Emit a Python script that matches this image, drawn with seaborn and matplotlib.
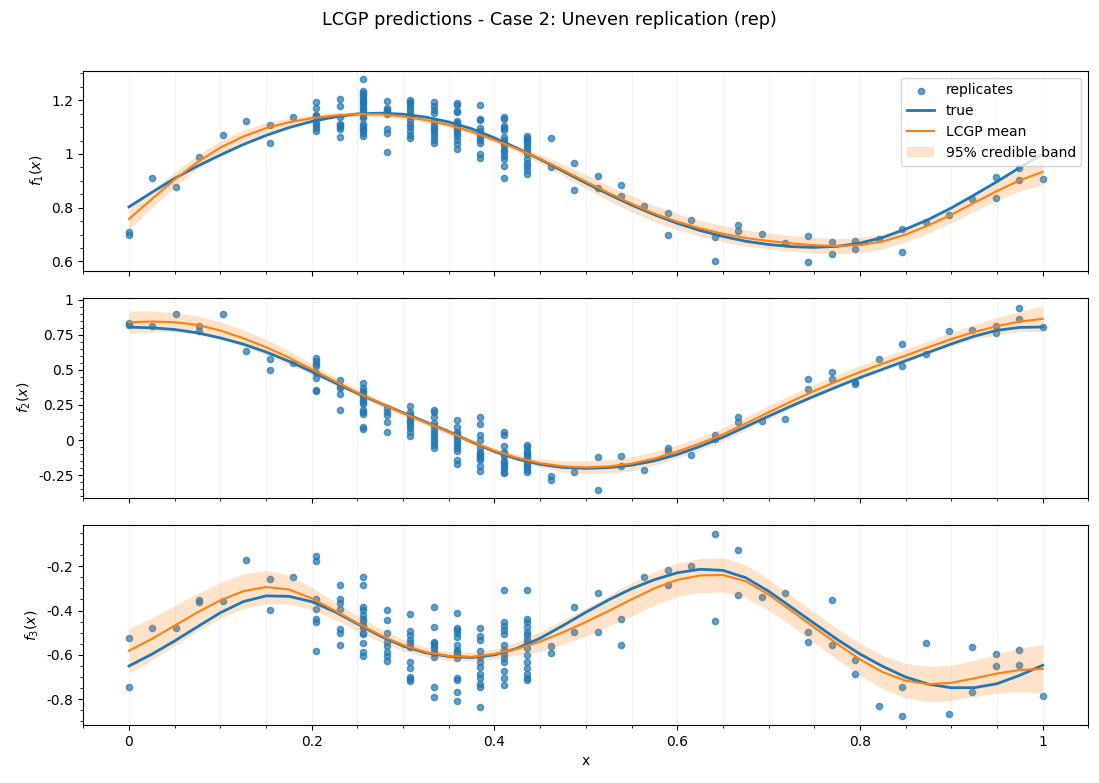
import numpy as np
import pandas as pd
import matplotlib
matplotlib.use("Agg")
import matplotlib.pyplot as plt
import seaborn as sns
from matplotlib.ticker import FuncFormatter

# design points (40 locations, uneven replication in the middle)
x_design = np.linspace(0, 1, 40)
# curve sampling grid
x_grid = np.linspace(0, 1, 41)

# ---- f1 ----
rep1 = [
    [0.708, 0.699], [0.911], [0.877], [0.990], [1.071], [1.123], [1.109, 1.041], [1.138],
    [1.192, 1.170, 1.145, 1.143, 1.138, 1.120, 1.107, 1.097, 1.086],
    [1.205, 1.178, 1.138, 1.113, 1.107, 1.099, 1.094, 1.063],
    [1.279, 1.236, 1.227, 1.218, 1.209, 1.202, 1.194, 1.185, 1.176, 1.169, 1.161, 1.140,
     1.134, 1.113, 1.104, 1.094, 1.088, 1.078, 1.068],
    [1.197, 1.170, 1.165, 1.159, 1.149, 1.092, 1.077, 1.007],
    [1.200, 1.192, 1.186, 1.175, 1.165, 1.153, 1.140, 1.125, 1.112, 1.099, 1.086, 1.072, 1.060],
    [1.192, 1.178, 1.165, 1.153, 1.124, 1.108, 1.097, 1.088, 1.078, 1.066, 1.053, 1.042],
    [1.190, 1.181, 1.159, 1.155, 1.122, 1.115, 1.109, 1.097, 1.088, 1.078, 1.066, 1.053, 1.037, 1.019],
    [1.184, 1.130, 1.125, 1.097, 1.084, 1.072, 1.060, 1.051, 1.041, 1.001, 0.985],
    [1.137, 1.132, 1.103, 1.097, 1.091, 1.062, 1.053, 1.041, 1.029, 1.016, 1.006, 0.994,
     0.981, 0.957, 0.911],
    [1.068, 1.060, 1.053, 1.043, 1.035, 1.022, 1.010, 0.998, 0.981, 0.966, 0.957, 0.942, 0.927],
    [1.060, 0.952], [0.966, 0.867], [0.919, 0.873], [0.885, 0.845], [0.808], [0.780, 0.700],
    [0.754], [0.691, 0.603], [0.736, 0.713], [0.702], [0.669], [0.696, 0.599], [0.673, 0.629],
    [0.675, 0.646], [0.683], [0.722, 0.636], [0.746], [0.773], [0.834], [0.916, 0.836],
    [0.948, 0.903], [0.908],
]
true1 = [0.803, 0.857, 0.909, 0.955, 0.996, 1.035, 1.069, 1.098, 1.121, 1.138, 1.149, 1.152,
         1.148, 1.137, 1.119, 1.094, 1.060, 1.021, 0.980, 0.936, 0.892, 0.850, 0.810, 0.774,
         0.742, 0.715, 0.693, 0.675, 0.663, 0.655, 0.652, 0.656, 0.668, 0.689, 0.720, 0.756,
         0.799, 0.847, 0.897, 0.949, 1.000]
mean1 = [0.758, 0.832, 0.905, 0.970, 1.024, 1.065, 1.096, 1.118, 1.133, 1.143, 1.149, 1.148,
         1.140, 1.126, 1.108, 1.083, 1.052, 1.019, 0.982, 0.940, 0.897, 0.855, 0.815, 0.778,
         0.748, 0.723, 0.703, 0.687, 0.676, 0.667, 0.660, 0.657, 0.661, 0.674, 0.700, 0.734,
         0.774, 0.818, 0.862, 0.902, 0.933]
half1 = [0.040, 0.033, 0.028, 0.025, 0.025, 0.024, 0.020, 0.016, 0.012, 0.010, 0.009, 0.009,
         0.009, 0.009, 0.009, 0.010, 0.010, 0.011, 0.016, 0.022, 0.026, 0.028, 0.030, 0.030,
         0.030, 0.030, 0.030, 0.030, 0.029, 0.029, 0.029, 0.028, 0.028, 0.028, 0.028, 0.029,
         0.030, 0.031, 0.034, 0.040, 0.047]

# ---- f2 ----
rep2 = [
    [0.833, 0.817], [0.810], [0.902], [0.812, 0.774], [0.895], [0.636], [0.579, 0.502], [0.552],
    [0.583, 0.567, 0.543, 0.531, 0.476, 0.440, 0.357, 0.350],
    [0.431, 0.383, 0.369, 0.326, 0.217],
    [0.407, 0.369, 0.352, 0.340, 0.321, 0.305, 0.288, 0.269, 0.257, 0.217, 0.198, 0.186, 0.090, 0.079],
    [0.226, 0.202, 0.179, 0.131, 0.060],
    [0.245, 0.198, 0.179, 0.162, 0.145, 0.126, 0.107, 0.086, 0.060, 0.031],
    [0.217, 0.202, 0.162, 0.121, 0.102, 0.074, 0.050, 0.031, 0.007, -0.017, -0.036, -0.057],
    [0.143, 0.090, 0.055, 0.043, 0.026, 0.007, -0.017, -0.036, -0.060, -0.076, -0.140, -0.171],
    [0.167, 0.114, 0.036, 0.002, -0.060, -0.083, -0.100, -0.117, -0.131, -0.140, -0.183, -0.221],
    [0.055, 0.038, -0.045, -0.088, -0.100, -0.112, -0.148, -0.164, -0.183, -0.202, -0.226, -0.236],
    [-0.036, -0.052, -0.076, -0.093, -0.107, -0.124, -0.140, -0.160, -0.179, -0.195, -0.212, -0.226],
    [-0.255, -0.286], [-0.226], [-0.121, -0.355], [-0.114, -0.186], [-0.214], [-0.057, -0.076],
    [-0.107], [0.036, 0.007], [0.167, 0.126], [0.138], [0.150], [0.436, 0.364], [0.488, 0.436],
    [0.412, 0.398], [0.579], [0.686, 0.531], [0.610], [0.779], [0.781], [0.812, 0.764],
    [0.943, 0.864], [0.807],
]
true2 = [0.805, 0.800, 0.788, 0.764, 0.728, 0.684, 0.628, 0.562, 0.488, 0.410, 0.333, 0.262,
         0.195, 0.128, 0.060, -0.013, -0.081, -0.135, -0.173, -0.195, -0.202, -0.196, -0.179,
         -0.148, -0.103, -0.045, 0.020, 0.095, 0.170, 0.243, 0.313, 0.380, 0.445, 0.505, 0.565,
         0.625, 0.685, 0.740, 0.782, 0.803, 0.806]
mean2 = [0.840, 0.845, 0.840, 0.821, 0.781, 0.726, 0.662, 0.588, 0.505, 0.420, 0.338, 0.262,
         0.192, 0.125, 0.058, -0.012, -0.076, -0.127, -0.165, -0.187, -0.195, -0.188, -0.168,
         -0.132, -0.082, -0.024, 0.040, 0.118, 0.198, 0.276, 0.350, 0.420, 0.485, 0.545, 0.602,
         0.662, 0.720, 0.770, 0.812, 0.845, 0.864]
half2 = [0.080, 0.075, 0.068, 0.064, 0.062, 0.060, 0.056, 0.050, 0.040, 0.030, 0.024, 0.021,
         0.020, 0.020, 0.020, 0.020, 0.020, 0.022, 0.030, 0.040, 0.046, 0.049, 0.050, 0.048,
         0.046, 0.046, 0.046, 0.047, 0.048, 0.048, 0.048, 0.047, 0.046, 0.045, 0.045, 0.046,
         0.048, 0.052, 0.060, 0.072, 0.090]

# ---- f3 ----
rep3 = [
    [-0.526, -0.746], [-0.480], [-0.480], [-0.353, -0.360], [-0.358], [-0.173], [-0.256, -0.398],
    [-0.251],
    [-0.155, -0.178, -0.349, -0.391, -0.436, -0.454, -0.583],
    [-0.283, -0.349, -0.368, -0.391, -0.484, -0.503, -0.556],
    [-0.251, -0.283, -0.383, -0.398, -0.421, -0.439, -0.448, -0.466, -0.481, -0.503, -0.508,
     -0.548, -0.586, -0.605],
    [-0.398, -0.443, -0.503, -0.540, -0.559, -0.589, -0.604, -0.626],
    [-0.416, -0.493, -0.511, -0.533, -0.548, -0.563, -0.631, -0.661, -0.701, -0.710, -0.716],
    [-0.383, -0.473, -0.540, -0.548, -0.559, -0.571, -0.586, -0.593, -0.608, -0.746, -0.788],
    [-0.409, -0.481, -0.488, -0.503, -0.518, -0.556, -0.578, -0.589, -0.598, -0.613, -0.706,
     -0.713, -0.769, -0.808],
    [-0.481, -0.513, -0.533, -0.583, -0.608, -0.631, -0.653, -0.688, -0.706, -0.733, -0.743, -0.834],
    [-0.308, -0.450, -0.469, -0.488, -0.508, -0.556, -0.578, -0.598, -0.613, -0.631, -0.673,
     -0.706, -0.736],
    [-0.308, -0.436, -0.454, -0.473, -0.499, -0.511, -0.529, -0.541, -0.568, -0.601, -0.631,
     -0.661, -0.688, -0.703, -0.713],
    [-0.560, -0.593], [-0.385, -0.499], [-0.319, -0.499], [-0.440, -0.556], [-0.248],
    [-0.218, -0.283], [-0.200], [-0.053, -0.448], [-0.128, -0.331], [-0.341], [-0.319],
    [-0.499, -0.544], [-0.353, -0.556], [-0.623, -0.686], [-0.830], [-0.746, -0.875], [-0.548],
    [-0.867], [-0.566, -0.767], [-0.598, -0.650], [-0.578, -0.646], [-0.785],
]
true3 = [-0.650, -0.597, -0.537, -0.473, -0.410, -0.360, -0.334, -0.336, -0.360, -0.405, -0.460,
         -0.515, -0.560, -0.591, -0.607, -0.612, -0.600, -0.570, -0.525, -0.468, -0.408, -0.352,
         -0.302, -0.261, -0.230, -0.214, -0.219, -0.252, -0.313, -0.385, -0.458, -0.530, -0.596,
         -0.652, -0.700, -0.732, -0.748, -0.748, -0.730, -0.692, -0.647]
mean3 = [-0.581, -0.528, -0.468, -0.408, -0.354, -0.313, -0.294, -0.305, -0.345, -0.400, -0.457,
         -0.511, -0.556, -0.588, -0.605, -0.609, -0.596, -0.572, -0.540, -0.498, -0.452, -0.402,
         -0.350, -0.300, -0.262, -0.242, -0.240, -0.268, -0.328, -0.401, -0.476, -0.550, -0.620,
         -0.678, -0.716, -0.732, -0.726, -0.706, -0.684, -0.668, -0.663]
half3 = [0.100, 0.095, 0.090, 0.085, 0.080, 0.078, 0.075, 0.065, 0.050, 0.040, 0.035, 0.030,
         0.025, 0.022, 0.020, 0.020, 0.022, 0.030, 0.045, 0.055, 0.062, 0.070, 0.075, 0.075,
         0.075, 0.077, 0.077, 0.075, 0.070, 0.068, 0.068, 0.070, 0.072, 0.075, 0.078, 0.080,
         0.080, 0.082, 0.088, 0.098, 0.110]

ylabels = ["$f_1(x)$", "$f_2(x)$", "$f_3(x)$"]
ylims = [(0.565, 1.310), (-0.412, 1.014), (-0.916, -0.014)]

fmt = FuncFormatter(lambda v, p: f"{round(v, 6) + 0:g}")

fig, axes = plt.subplots(3, 1, figsize=(10.99, 7.83), dpi=100, sharex=True)
fig.subplots_adjust(left=0.0758, right=0.9903, top=0.9097, bottom=0.0741, hspace=0.135)

panels = zip(axes, [rep1, rep2, rep3], [true1, true2, true3], [mean1, mean2, mean3],
             [half1, half2, half3], ylabels, ylims)
for k, (ax, rep, tru, mu, hw, lab, lim) in enumerate(panels):
    df = pd.DataFrame({
        "x": [x_design[i] for i, vals in enumerate(rep) for _ in vals],
        "y": [v for vals in rep for v in vals],
    })
    mu = np.array(mu)
    hw = np.array(hw)
    first = (k == 0)
    sns.scatterplot(data=df, x="x", y="y", ax=ax, s=20, color="C0", alpha=0.7,
                    edgecolor="face", linewidth=1,
                    label="replicates" if first else None, legend=False)
    sns.lineplot(x=x_grid, y=tru, ax=ax, color="C0", lw=2, errorbar=None,
                 label="true" if first else None, legend=False)
    sns.lineplot(x=x_grid, y=mu, ax=ax, color="C1", lw=1.5, errorbar=None,
                 label="LCGP mean" if first else None, legend=False)
    ax.fill_between(x_grid, mu - hw, mu + hw, color="C1", alpha=0.22, lw=0,
                    label="95% credible band" if first else None)
    ax.set_ylim(*lim)
    ax.set_xlim(-0.05, 1.05)
    ax.set_ylabel(lab)
    ax.set_xlabel("")
    ax.minorticks_on()
    ax.yaxis.set_major_formatter(fmt)
    ax.xaxis.set_major_formatter(fmt)
    ax.grid(axis="x", which="both", alpha=0.15)
    if ax.get_legend() is not None:
        ax.get_legend().remove()

axes[0].legend(loc="upper right")
axes[2].set_xlabel("x")
fig.suptitle("LCGP predictions - Case 2: Uneven replication (rep)", y=0.986, fontsize=12.7)

fig.savefig("out.png", dpi=100)
